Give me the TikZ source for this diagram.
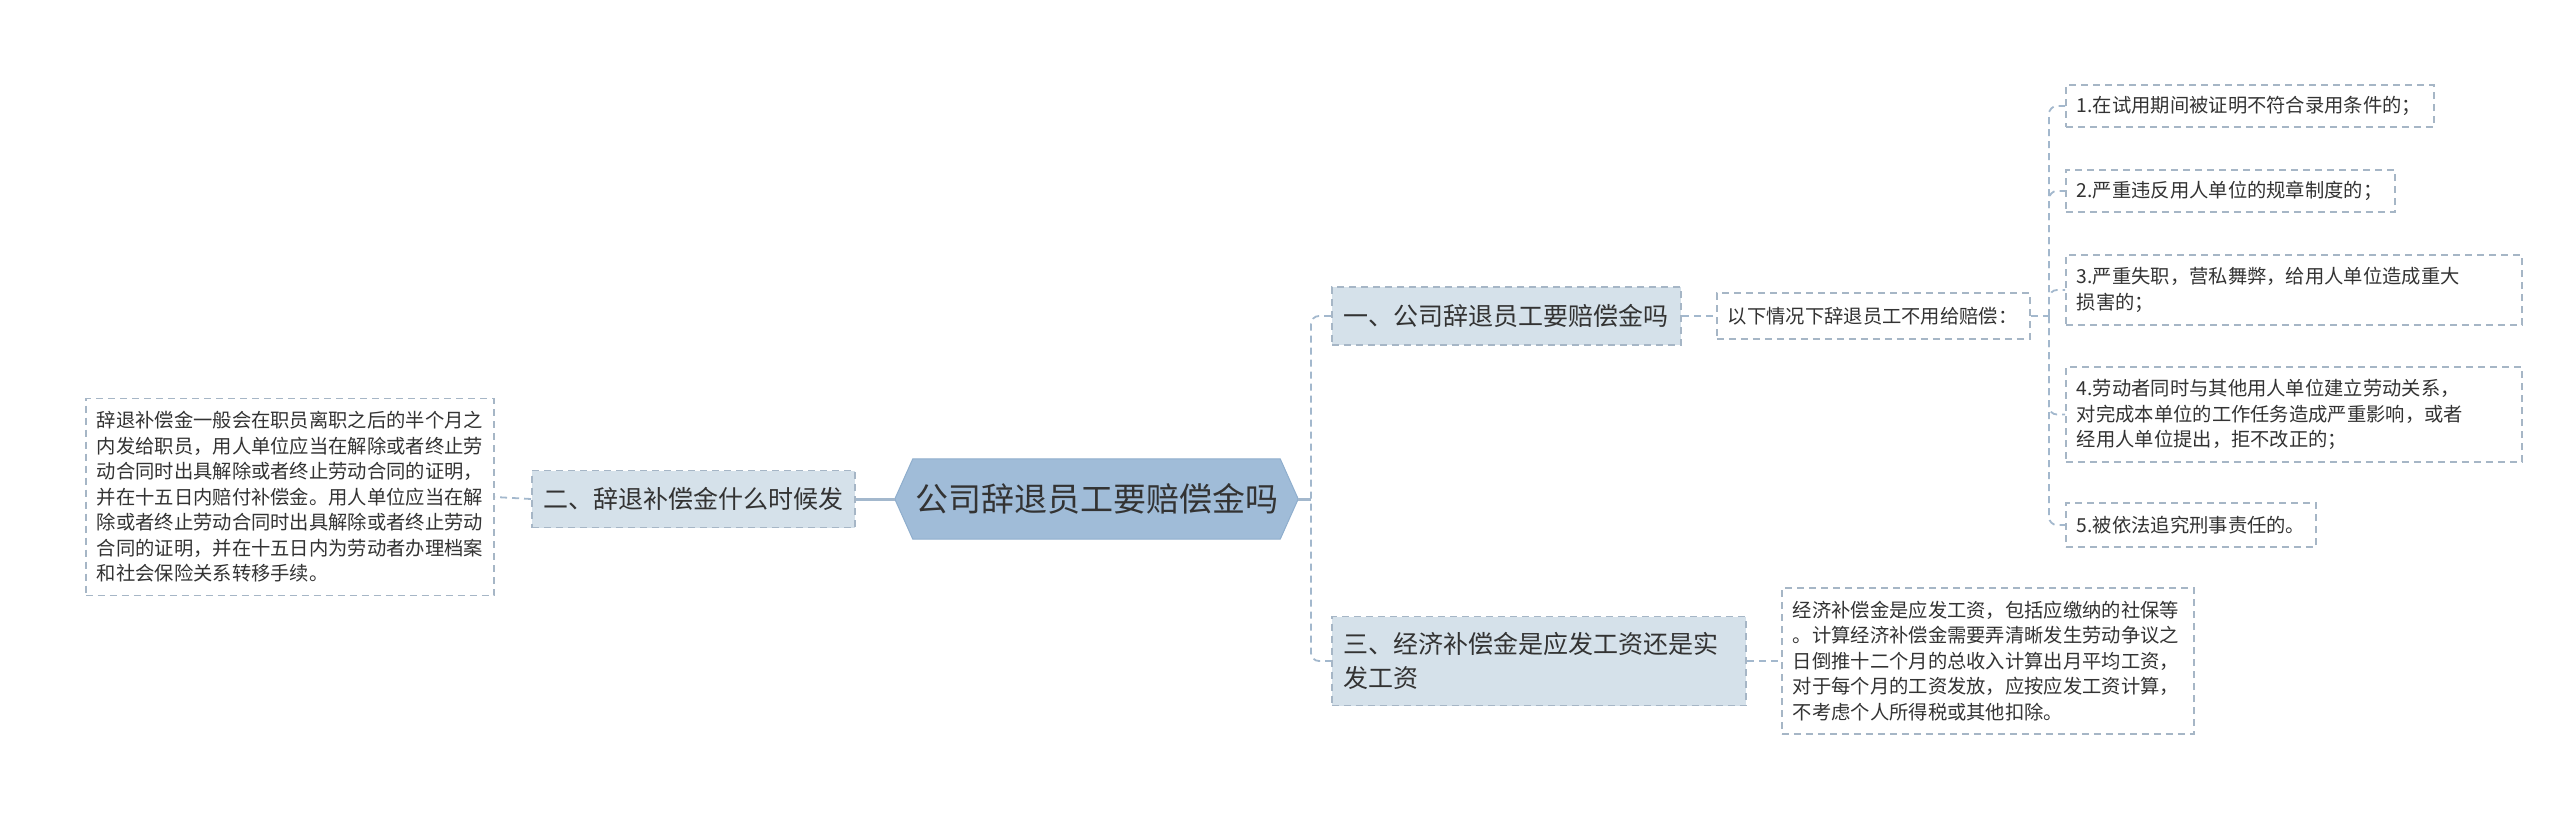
\documentclass[tikz,border=0pt]{standalone}
\usepackage{fontspec}
\newfontfamily\cjk{Noto Sans CJK SC}
\usetikzlibrary{backgrounds}
\definecolor{hexfill}{HTML}{A0BCD8}
\definecolor{hexdraw}{HTML}{8FAECD}
\definecolor{brfill}{HTML}{D5E1EA}
\definecolor{bordc}{HTML}{A6B6C6}
\definecolor{connc}{HTML}{A3B8CD}
\definecolor{txt}{HTML}{333333}
\begin{document}
\begin{tikzpicture}[x=1pt,y=-1pt,
 every node/.style={text=txt, inner ysep=0pt},
 smalltext/.style={font=\cjk\fontsize{19.3}{25.5}\selectfont},
 brtext/.style={font=\cjk\fontsize{25}{34}\selectfont},
 tbox/.style={draw=bordc, line width=1.8pt, dash pattern=on 7pt off 5pt, fill=white, anchor=west, align=left, inner xsep=11pt, smalltext},
 brbox/.style={tbox, fill=brfill, brtext, inner xsep=12pt},
 centernode/.style={minimum width=403pt, minimum height=80pt, inner sep=0pt, font=\cjk\fontsize{33}{40}\selectfont},
 dconn/.style={draw=connc, line width=1.8pt, dash pattern=on 7pt off 5pt, rounded corners=8pt},
 sconn/.style={draw=connc, line width=3pt},
]
\useasboundingbox (0,0) rectangle (2560,820);
\node[centernode] (c) at (1096.5,499) {公司辞退员工要赔偿金吗};
\node[brbox, text width=299pt, minimum height=57pt] (ln) at (531,499) {二、辞退补偿金什么时候发};
\node[tbox, text width=386pt, minimum height=197pt] (fl) at (85,497) {辞退补偿金一般会在职员离职之后的半个月之\\内发给职员，用人单位应当在解除或者终止劳\\动合同时出具解除或者终止劳动合同的证明，\\并在十五日内赔付补偿金。用人单位应当在解\\除或者终止劳动合同时出具解除或者终止劳动\\合同的证明，并在十五日内为劳动者办理档案\\和社会保险关系转移手续。};
\node[brbox, text width=325pt, minimum height=58pt] (b1) at (1331,316) {一、公司辞退员工要赔偿金吗};
\node[tbox, text width=291pt, minimum height=46pt] (intro) at (1716,316) {以下情况下辞退员工不用给赔偿：};
\node[tbox, text width=346pt, minimum height=42pt] (i1) at (2065,106) {1.在试用期间被证明不符合录用条件的；};
\node[tbox, text width=307pt, minimum height=42pt] (i2) at (2065,191) {2.严重违反用人单位的规章制度的；};
\node[tbox, text width=434pt, minimum height=70pt] (i3) at (2065,290) {3.严重失职，营私舞弊，给用人单位造成重大\\损害的；};
\node[tbox, text width=434pt, minimum height=95pt] (i4) at (2065,414.5) {4.劳动者同时与其他用人单位建立劳动关系，\\对完成本单位的工作任务造成严重影响，或者\\经用人单位提出，拒不改正的；};
\node[tbox, text width=228pt, minimum height=44pt] (i5) at (2065,525) {5.被依法追究刑事责任的。};
\node[brbox, text width=390pt, minimum height=89pt] (b3) at (1331,661) {三、经济补偿金是应发工资还是实\\发工资};
\node[tbox, text width=390pt, minimum height=146pt] (rt) at (1781,661) {经济补偿金是应发工资，包括应缴纳的社保等\\。计算经济补偿金需要弄清晰发生劳动争议之\\日倒推十二个月的总收入计算出月平均工资，\\对于每个月的工资发放，应按应发工资计算，\\不考虑个人所得税或其他扣除。};
\coordinate (tr) at (1311,499);
\coordinate (j) at (2049,316);
\begin{scope}[on background layer]
\path[fill=hexfill, draw=hexdraw, line width=1pt] (c.west) -- ([xshift=18pt]c.north west) -- ([xshift=-18pt]c.north east) -- (c.east) -- ([xshift=-18pt]c.south east) -- ([xshift=18pt]c.south west) -- cycle;
\draw[sconn] (c.east) -- (tr);
\draw[sconn] (c.west) -- (ln.east);
\draw[dconn] (b1.west) -| (tr) |- (b3.west);
\draw[dconn] (ln.west) -- (fl.east);
\draw[dconn] (b1.east) -- (intro.west);
\draw[dconn] (intro.east) -- (j);
\foreach \n in {i1,i2,i3,i4,i5} \draw[dconn] (j) |- (\n.west);
\draw[dconn] (b3.east) -- (rt.west);
\end{scope}
\end{tikzpicture}
\end{document}
